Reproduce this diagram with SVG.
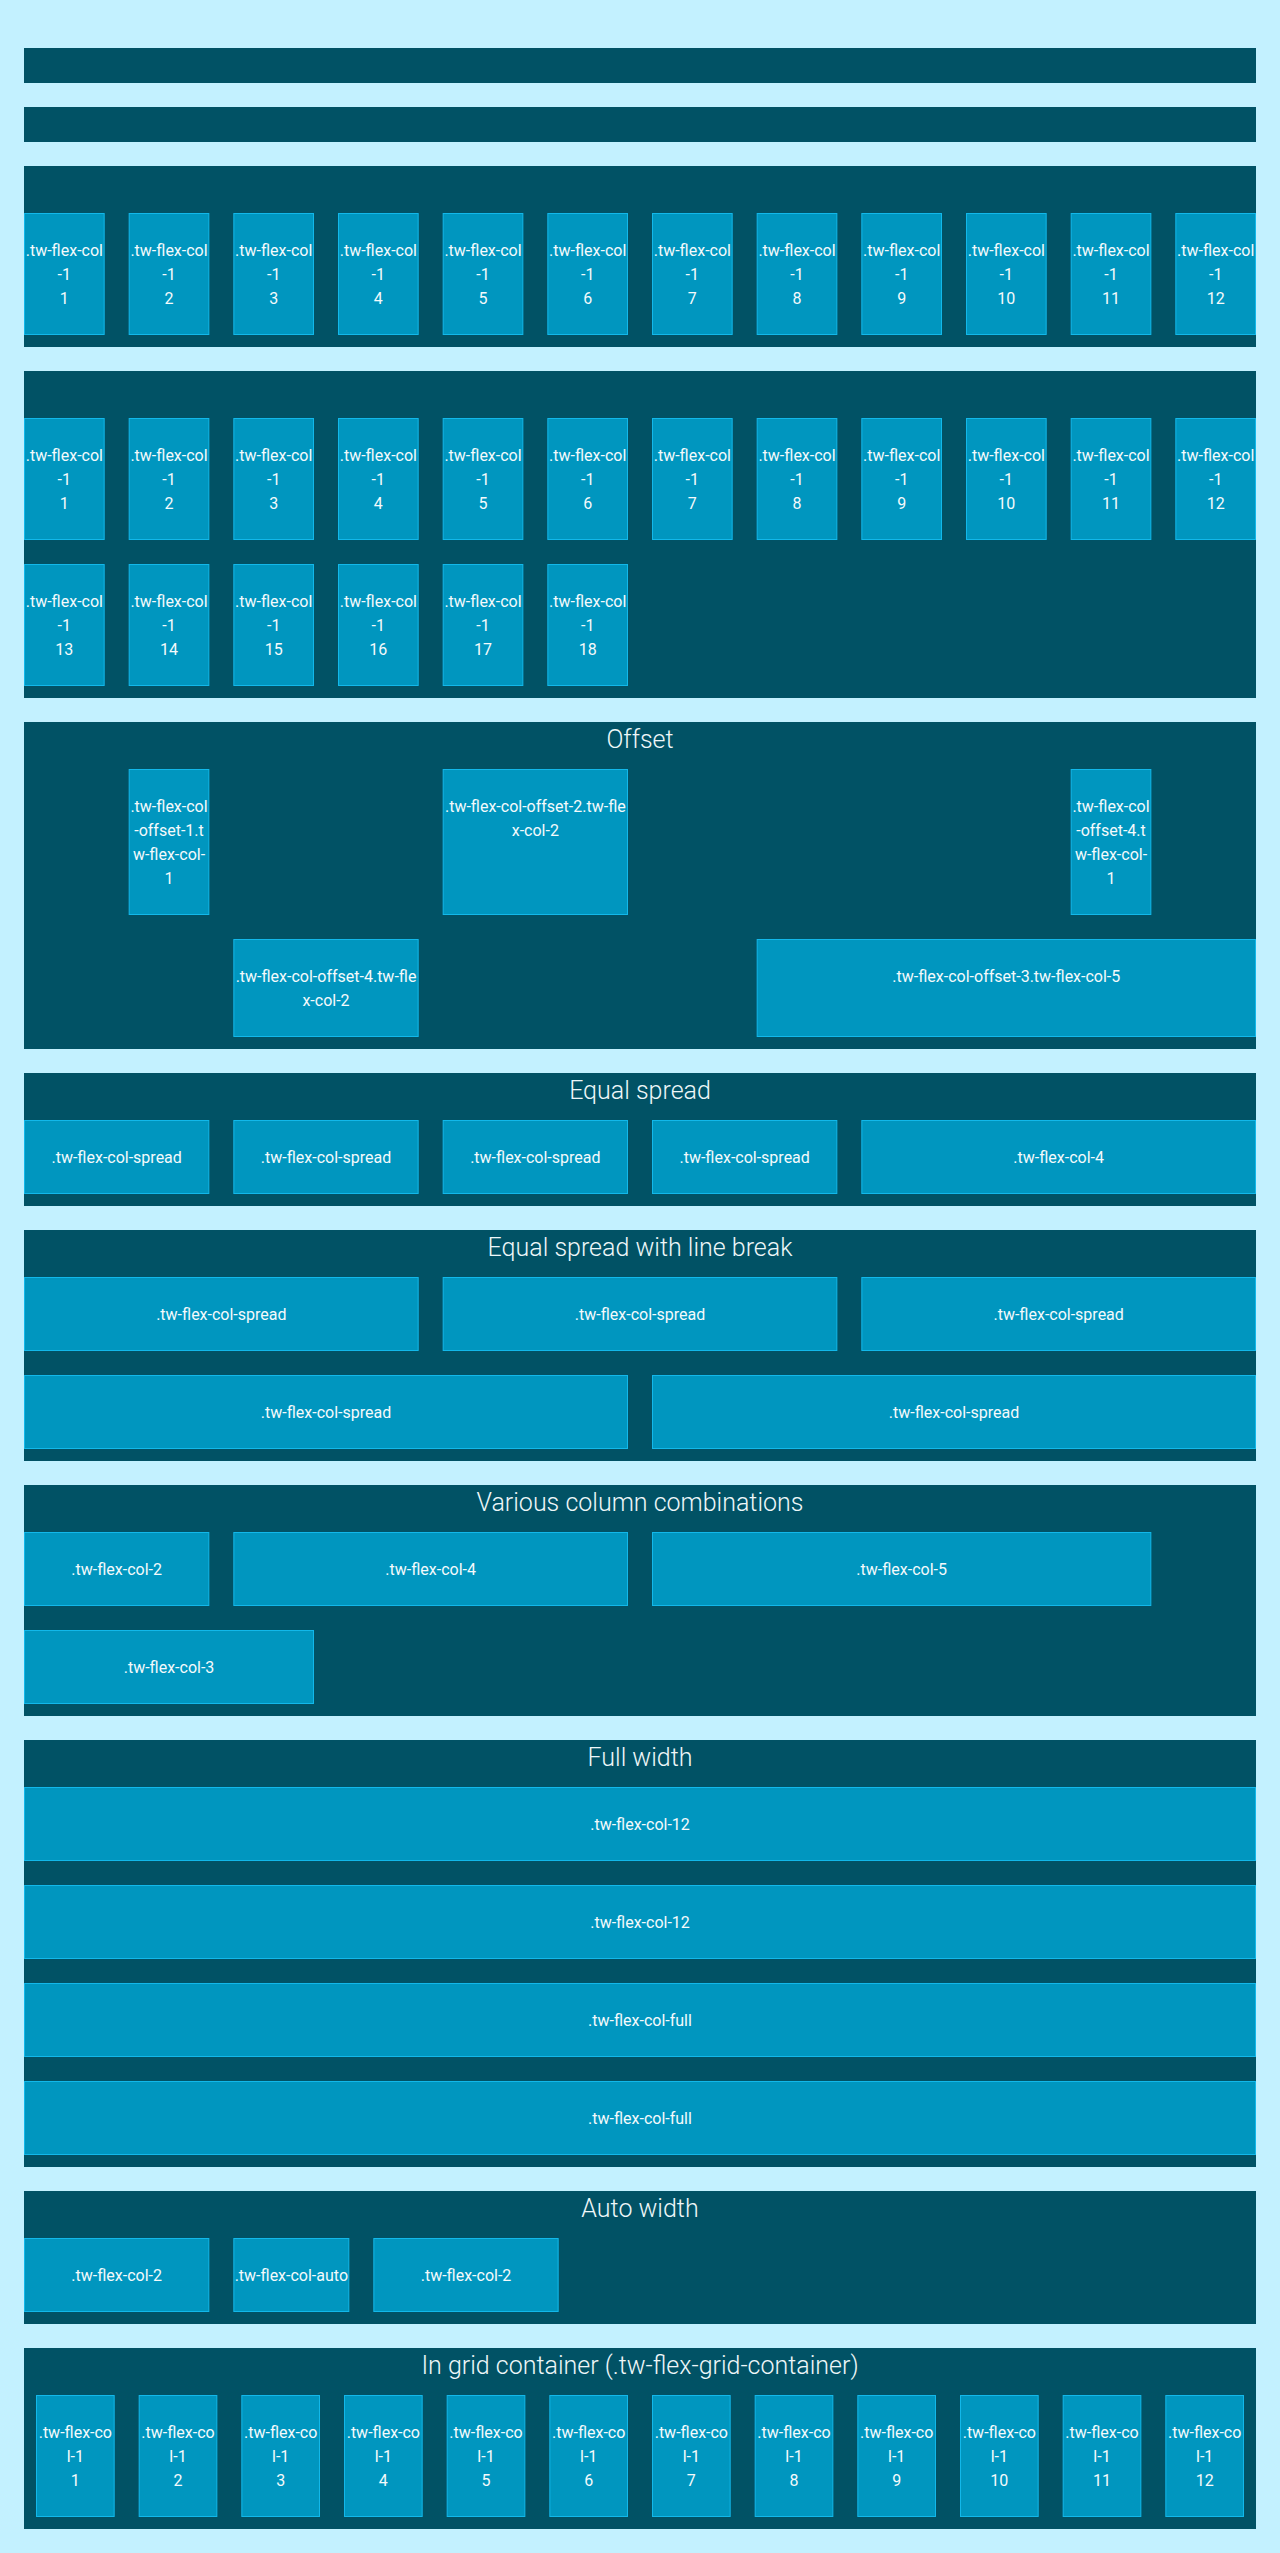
<svg xmlns="http://www.w3.org/2000/svg" width="1280" height="2553" viewBox="0 0 1280 2553">
<style>
.bg{fill:#c3f1ff}
.band{fill:#015265}
.box{fill:#0096bf;stroke:#12b8ea;stroke-width:1}
.t{font-family:Roboto,"Liberation Sans",sans-serif;font-weight:400;font-size:16px;fill:#f4fafc;text-anchor:middle}
.h{font-family:Roboto,"Liberation Sans",sans-serif;font-weight:300;font-size:25px;fill:#eef7f9;text-anchor:middle}
</style>
<rect class="bg" x="0" y="0" width="1280" height="2553"/>
<g id="connectors"></g>

<g id="section-1"><rect class="band" x="24" y="48" width="1232" height="35"/></g>
<g id="section-2"><rect class="band" x="24" y="107" width="1232" height="35"/></g>

<g id="section-3">
<rect class="band" x="24" y="166" width="1232" height="181"/>
<g id="s3-c1"><rect class="box" x="24.5" y="213.5" width="79.67" height="121"/><text class="t" x="64.33" y="255.5">.tw-flex-col</text><text class="t" x="64.33" y="279.5">-1</text><text class="t" x="64.33" y="303.5">1</text></g>
<g id="s3-c2"><rect class="box" x="129.17" y="213.5" width="79.67" height="121"/><text class="t" x="169" y="255.5">.tw-flex-col</text><text class="t" x="169" y="279.5">-1</text><text class="t" x="169" y="303.5">2</text></g>
<g id="s3-c3"><rect class="box" x="233.83" y="213.5" width="79.67" height="121"/><text class="t" x="273.67" y="255.5">.tw-flex-col</text><text class="t" x="273.67" y="279.5">-1</text><text class="t" x="273.67" y="303.5">3</text></g>
<g id="s3-c4"><rect class="box" x="338.5" y="213.5" width="79.67" height="121"/><text class="t" x="378.33" y="255.5">.tw-flex-col</text><text class="t" x="378.33" y="279.5">-1</text><text class="t" x="378.33" y="303.5">4</text></g>
<g id="s3-c5"><rect class="box" x="443.17" y="213.5" width="79.67" height="121"/><text class="t" x="483" y="255.5">.tw-flex-col</text><text class="t" x="483" y="279.5">-1</text><text class="t" x="483" y="303.5">5</text></g>
<g id="s3-c6"><rect class="box" x="547.83" y="213.5" width="79.67" height="121"/><text class="t" x="587.67" y="255.5">.tw-flex-col</text><text class="t" x="587.67" y="279.5">-1</text><text class="t" x="587.67" y="303.5">6</text></g>
<g id="s3-c7"><rect class="box" x="652.5" y="213.5" width="79.67" height="121"/><text class="t" x="692.33" y="255.5">.tw-flex-col</text><text class="t" x="692.33" y="279.5">-1</text><text class="t" x="692.33" y="303.5">7</text></g>
<g id="s3-c8"><rect class="box" x="757.17" y="213.5" width="79.67" height="121"/><text class="t" x="797" y="255.5">.tw-flex-col</text><text class="t" x="797" y="279.5">-1</text><text class="t" x="797" y="303.5">8</text></g>
<g id="s3-c9"><rect class="box" x="861.83" y="213.5" width="79.67" height="121"/><text class="t" x="901.67" y="255.5">.tw-flex-col</text><text class="t" x="901.67" y="279.5">-1</text><text class="t" x="901.67" y="303.5">9</text></g>
<g id="s3-c10"><rect class="box" x="966.5" y="213.5" width="79.67" height="121"/><text class="t" x="1006.33" y="255.5">.tw-flex-col</text><text class="t" x="1006.33" y="279.5">-1</text><text class="t" x="1006.33" y="303.5">10</text></g>
<g id="s3-c11"><rect class="box" x="1071.17" y="213.5" width="79.67" height="121"/><text class="t" x="1111" y="255.5">.tw-flex-col</text><text class="t" x="1111" y="279.5">-1</text><text class="t" x="1111" y="303.5">11</text></g>
<g id="s3-c12"><rect class="box" x="1175.83" y="213.5" width="79.67" height="121"/><text class="t" x="1215.67" y="255.5">.tw-flex-col</text><text class="t" x="1215.67" y="279.5">-1</text><text class="t" x="1215.67" y="303.5">12</text></g>
</g>

<g id="section-4">
<rect class="band" x="24" y="371" width="1232" height="327"/>
<g id="s4-c1"><rect class="box" x="24.5" y="418.5" width="79.67" height="121"/><text class="t" x="64.33" y="460.5">.tw-flex-col</text><text class="t" x="64.33" y="484.5">-1</text><text class="t" x="64.33" y="508.5">1</text></g>
<g id="s4-c2"><rect class="box" x="129.17" y="418.5" width="79.67" height="121"/><text class="t" x="169" y="460.5">.tw-flex-col</text><text class="t" x="169" y="484.5">-1</text><text class="t" x="169" y="508.5">2</text></g>
<g id="s4-c3"><rect class="box" x="233.83" y="418.5" width="79.67" height="121"/><text class="t" x="273.67" y="460.5">.tw-flex-col</text><text class="t" x="273.67" y="484.5">-1</text><text class="t" x="273.67" y="508.5">3</text></g>
<g id="s4-c4"><rect class="box" x="338.5" y="418.5" width="79.67" height="121"/><text class="t" x="378.33" y="460.5">.tw-flex-col</text><text class="t" x="378.33" y="484.5">-1</text><text class="t" x="378.33" y="508.5">4</text></g>
<g id="s4-c5"><rect class="box" x="443.17" y="418.5" width="79.67" height="121"/><text class="t" x="483" y="460.5">.tw-flex-col</text><text class="t" x="483" y="484.5">-1</text><text class="t" x="483" y="508.5">5</text></g>
<g id="s4-c6"><rect class="box" x="547.83" y="418.5" width="79.67" height="121"/><text class="t" x="587.67" y="460.5">.tw-flex-col</text><text class="t" x="587.67" y="484.5">-1</text><text class="t" x="587.67" y="508.5">6</text></g>
<g id="s4-c7"><rect class="box" x="652.5" y="418.5" width="79.67" height="121"/><text class="t" x="692.33" y="460.5">.tw-flex-col</text><text class="t" x="692.33" y="484.5">-1</text><text class="t" x="692.33" y="508.5">7</text></g>
<g id="s4-c8"><rect class="box" x="757.17" y="418.5" width="79.67" height="121"/><text class="t" x="797" y="460.5">.tw-flex-col</text><text class="t" x="797" y="484.5">-1</text><text class="t" x="797" y="508.5">8</text></g>
<g id="s4-c9"><rect class="box" x="861.83" y="418.5" width="79.67" height="121"/><text class="t" x="901.67" y="460.5">.tw-flex-col</text><text class="t" x="901.67" y="484.5">-1</text><text class="t" x="901.67" y="508.5">9</text></g>
<g id="s4-c10"><rect class="box" x="966.5" y="418.5" width="79.67" height="121"/><text class="t" x="1006.33" y="460.5">.tw-flex-col</text><text class="t" x="1006.33" y="484.5">-1</text><text class="t" x="1006.33" y="508.5">10</text></g>
<g id="s4-c11"><rect class="box" x="1071.17" y="418.5" width="79.67" height="121"/><text class="t" x="1111" y="460.5">.tw-flex-col</text><text class="t" x="1111" y="484.5">-1</text><text class="t" x="1111" y="508.5">11</text></g>
<g id="s4-c12"><rect class="box" x="1175.83" y="418.5" width="79.67" height="121"/><text class="t" x="1215.67" y="460.5">.tw-flex-col</text><text class="t" x="1215.67" y="484.5">-1</text><text class="t" x="1215.67" y="508.5">12</text></g>
<g id="s4-c13"><rect class="box" x="24.5" y="564.5" width="79.67" height="121"/><text class="t" x="64.33" y="606.5">.tw-flex-col</text><text class="t" x="64.33" y="630.5">-1</text><text class="t" x="64.33" y="654.5">13</text></g>
<g id="s4-c14"><rect class="box" x="129.17" y="564.5" width="79.67" height="121"/><text class="t" x="169" y="606.5">.tw-flex-col</text><text class="t" x="169" y="630.5">-1</text><text class="t" x="169" y="654.5">14</text></g>
<g id="s4-c15"><rect class="box" x="233.83" y="564.5" width="79.67" height="121"/><text class="t" x="273.67" y="606.5">.tw-flex-col</text><text class="t" x="273.67" y="630.5">-1</text><text class="t" x="273.67" y="654.5">15</text></g>
<g id="s4-c16"><rect class="box" x="338.5" y="564.5" width="79.67" height="121"/><text class="t" x="378.33" y="606.5">.tw-flex-col</text><text class="t" x="378.33" y="630.5">-1</text><text class="t" x="378.33" y="654.5">16</text></g>
<g id="s4-c17"><rect class="box" x="443.17" y="564.5" width="79.67" height="121"/><text class="t" x="483" y="606.5">.tw-flex-col</text><text class="t" x="483" y="630.5">-1</text><text class="t" x="483" y="654.5">17</text></g>
<g id="s4-c18"><rect class="box" x="547.83" y="564.5" width="79.67" height="121"/><text class="t" x="587.67" y="606.5">.tw-flex-col</text><text class="t" x="587.67" y="630.5">-1</text><text class="t" x="587.67" y="654.5">18</text></g>
</g>

<g id="section-offset">
<rect class="band" x="24" y="722" width="1232" height="327"/>
<text class="h" x="640" y="748">Offset</text>
<g id="off-1"><rect class="box" x="129.17" y="769.5" width="79.67" height="145"/><text class="t" x="169" y="811.5">.tw-flex-col</text><text class="t" x="169" y="835.5">-offset-1.t</text><text class="t" x="169" y="859.5">w-flex-col-</text><text class="t" x="169" y="883.5">1</text></g>
<g id="off-2"><rect class="box" x="443.17" y="769.5" width="184.33" height="145"/><text class="t" x="535.33" y="811.5">.tw-flex-col-offset-2.tw-fle</text><text class="t" x="535.33" y="835.5">x-col-2</text></g>
<g id="off-3"><rect class="box" x="1071.17" y="769.5" width="79.67" height="145"/><text class="t" x="1111" y="811.5">.tw-flex-col</text><text class="t" x="1111" y="835.5">-offset-4.t</text><text class="t" x="1111" y="859.5">w-flex-col-</text><text class="t" x="1111" y="883.5">1</text></g>
<g id="off-4"><rect class="box" x="233.83" y="939.5" width="184.33" height="97"/><text class="t" x="326" y="981.5">.tw-flex-col-offset-4.tw-fle</text><text class="t" x="326" y="1005.5">x-col-2</text></g>
<g id="off-5"><rect class="box" x="757.17" y="939.5" width="498.33" height="97"/><text class="t" x="1006.33" y="981.5">.tw-flex-col-offset-3.tw-flex-col-5</text></g>
</g>

<g id="section-equal">
<rect class="band" x="24" y="1073" width="1232" height="133"/>
<text class="h" x="640" y="1099">Equal spread</text>
<g id="eq-1"><rect class="box" x="24.5" y="1120.5" width="184.33" height="73"/><text class="t" x="116.67" y="1162.5">.tw-flex-col-spread</text></g>
<g id="eq-2"><rect class="box" x="233.83" y="1120.5" width="184.33" height="73"/><text class="t" x="326" y="1162.5">.tw-flex-col-spread</text></g>
<g id="eq-3"><rect class="box" x="443.17" y="1120.5" width="184.33" height="73"/><text class="t" x="535.33" y="1162.5">.tw-flex-col-spread</text></g>
<g id="eq-4"><rect class="box" x="652.5" y="1120.5" width="184.33" height="73"/><text class="t" x="744.67" y="1162.5">.tw-flex-col-spread</text></g>
<g id="eq-5"><rect class="box" x="861.83" y="1120.5" width="393.67" height="73"/><text class="t" x="1058.67" y="1162.5">.tw-flex-col-4</text></g>
</g>

<g id="section-equal-break">
<rect class="band" x="24" y="1230" width="1232" height="231"/>
<text class="h" x="640" y="1256">Equal spread with line break</text>
<g id="eb-1"><rect class="box" x="24.5" y="1277.5" width="393.67" height="73"/><text class="t" x="221.33" y="1319.5">.tw-flex-col-spread</text></g>
<g id="eb-2"><rect class="box" x="443.17" y="1277.5" width="393.67" height="73"/><text class="t" x="640" y="1319.5">.tw-flex-col-spread</text></g>
<g id="eb-3"><rect class="box" x="861.83" y="1277.5" width="393.67" height="73"/><text class="t" x="1058.67" y="1319.5">.tw-flex-col-spread</text></g>
<g id="eb-4"><rect class="box" x="24.5" y="1375.5" width="603" height="73"/><text class="t" x="326" y="1417.5">.tw-flex-col-spread</text></g>
<g id="eb-5"><rect class="box" x="652.5" y="1375.5" width="603" height="73"/><text class="t" x="954" y="1417.5">.tw-flex-col-spread</text></g>
</g>

<g id="section-various">
<rect class="band" x="24" y="1485" width="1232" height="231"/>
<text class="h" x="640" y="1511">Various column combinations</text>
<g id="va-1"><rect class="box" x="24.5" y="1532.5" width="184.33" height="73"/><text class="t" x="116.67" y="1574.5">.tw-flex-col-2</text></g>
<g id="va-2"><rect class="box" x="233.83" y="1532.5" width="393.67" height="73"/><text class="t" x="430.67" y="1574.5">.tw-flex-col-4</text></g>
<g id="va-3"><rect class="box" x="652.5" y="1532.5" width="498.33" height="73"/><text class="t" x="901.67" y="1574.5">.tw-flex-col-5</text></g>
<g id="va-4"><rect class="box" x="24.5" y="1630.5" width="289" height="73"/><text class="t" x="169" y="1672.5">.tw-flex-col-3</text></g>
</g>

<g id="section-full">
<rect class="band" x="24" y="1740" width="1232" height="427"/>
<text class="h" x="640" y="1766">Full width</text>
<g id="fw-1"><rect class="box" x="24.5" y="1787.5" width="1231" height="73"/><text class="t" x="640" y="1829.5">.tw-flex-col-12</text></g>
<g id="fw-2"><rect class="box" x="24.5" y="1885.5" width="1231" height="73"/><text class="t" x="640" y="1927.5">.tw-flex-col-12</text></g>
<g id="fw-3"><rect class="box" x="24.5" y="1983.5" width="1231" height="73"/><text class="t" x="640" y="2025.5">.tw-flex-col-full</text></g>
<g id="fw-4"><rect class="box" x="24.5" y="2081.5" width="1231" height="73"/><text class="t" x="640" y="2123.5">.tw-flex-col-full</text></g>
</g>

<g id="section-auto">
<rect class="band" x="24" y="2191" width="1232" height="133"/>
<text class="h" x="640" y="2217">Auto width</text>
<g id="aw-1"><rect class="box" x="24.5" y="2238.5" width="184.33" height="73"/><text class="t" x="116.67" y="2280.5">.tw-flex-col-2</text></g>
<g id="aw-2"><rect class="box" x="233.83" y="2238.5" width="115" height="73"/><text class="t" x="291.33" y="2280.5">.tw-flex-col-auto</text></g>
<g id="aw-3"><rect class="box" x="373.83" y="2238.5" width="184.33" height="73"/><text class="t" x="466" y="2280.5">.tw-flex-col-2</text></g>
</g>

<g id="section-grid">
<rect class="band" x="24" y="2348" width="1232" height="181"/>
<text class="h" x="640" y="2374">In grid container (.tw-flex-grid-container)</text>
<g id="gc-1"><rect class="box" x="36.5" y="2395.5" width="77.67" height="121"/><text class="t" x="75.33" y="2437.5">.tw-flex-co</text><text class="t" x="75.33" y="2461.5">l-1</text><text class="t" x="75.33" y="2485.5">1</text></g>
<g id="gc-2"><rect class="box" x="139.17" y="2395.5" width="77.67" height="121"/><text class="t" x="178" y="2437.5">.tw-flex-co</text><text class="t" x="178" y="2461.5">l-1</text><text class="t" x="178" y="2485.5">2</text></g>
<g id="gc-3"><rect class="box" x="241.83" y="2395.5" width="77.67" height="121"/><text class="t" x="280.67" y="2437.5">.tw-flex-co</text><text class="t" x="280.67" y="2461.5">l-1</text><text class="t" x="280.67" y="2485.5">3</text></g>
<g id="gc-4"><rect class="box" x="344.5" y="2395.5" width="77.67" height="121"/><text class="t" x="383.33" y="2437.5">.tw-flex-co</text><text class="t" x="383.33" y="2461.5">l-1</text><text class="t" x="383.33" y="2485.5">4</text></g>
<g id="gc-5"><rect class="box" x="447.17" y="2395.5" width="77.67" height="121"/><text class="t" x="486" y="2437.5">.tw-flex-co</text><text class="t" x="486" y="2461.5">l-1</text><text class="t" x="486" y="2485.5">5</text></g>
<g id="gc-6"><rect class="box" x="549.83" y="2395.5" width="77.67" height="121"/><text class="t" x="588.67" y="2437.5">.tw-flex-co</text><text class="t" x="588.67" y="2461.5">l-1</text><text class="t" x="588.67" y="2485.5">6</text></g>
<g id="gc-7"><rect class="box" x="652.5" y="2395.5" width="77.67" height="121"/><text class="t" x="691.33" y="2437.5">.tw-flex-co</text><text class="t" x="691.33" y="2461.5">l-1</text><text class="t" x="691.33" y="2485.5">7</text></g>
<g id="gc-8"><rect class="box" x="755.17" y="2395.5" width="77.67" height="121"/><text class="t" x="794" y="2437.5">.tw-flex-co</text><text class="t" x="794" y="2461.5">l-1</text><text class="t" x="794" y="2485.5">8</text></g>
<g id="gc-9"><rect class="box" x="857.83" y="2395.5" width="77.67" height="121"/><text class="t" x="896.67" y="2437.5">.tw-flex-co</text><text class="t" x="896.67" y="2461.5">l-1</text><text class="t" x="896.67" y="2485.5">9</text></g>
<g id="gc-10"><rect class="box" x="960.5" y="2395.5" width="77.67" height="121"/><text class="t" x="999.33" y="2437.5">.tw-flex-co</text><text class="t" x="999.33" y="2461.5">l-1</text><text class="t" x="999.33" y="2485.5">10</text></g>
<g id="gc-11"><rect class="box" x="1063.17" y="2395.5" width="77.67" height="121"/><text class="t" x="1102" y="2437.5">.tw-flex-co</text><text class="t" x="1102" y="2461.5">l-1</text><text class="t" x="1102" y="2485.5">11</text></g>
<g id="gc-12"><rect class="box" x="1165.83" y="2395.5" width="77.67" height="121"/><text class="t" x="1204.67" y="2437.5">.tw-flex-co</text><text class="t" x="1204.67" y="2461.5">l-1</text><text class="t" x="1204.67" y="2485.5">12</text></g>
</g>
</svg>
